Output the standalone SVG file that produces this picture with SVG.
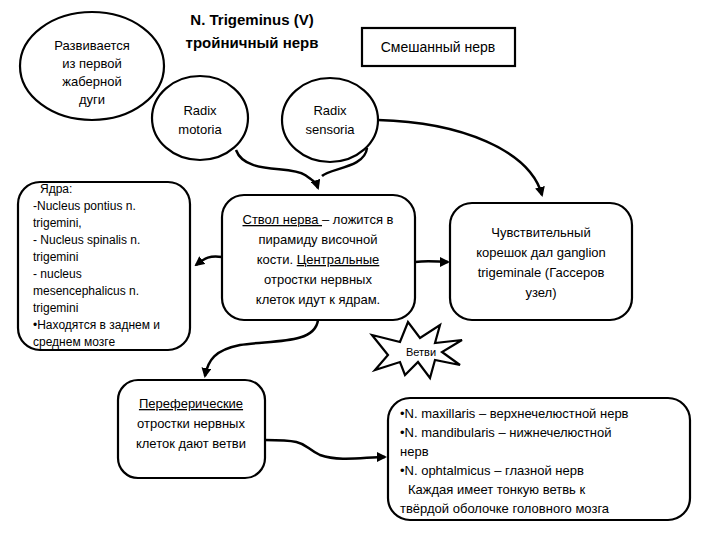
<svg xmlns="http://www.w3.org/2000/svg" width="720" height="540" viewBox="0 0 720 540">
<defs>
<style>
.s{fill:#fff;stroke:#000;stroke-width:2.2}
.c{fill:none;stroke:#000;stroke-width:2.5}
text{font-family:"Liberation Sans Narrow","Liberation Sans",Arial,sans-serif;font-size:13px;fill:#000}
.m{text-anchor:middle}
.b{font-weight:bold;font-size:15px}
.n{font-size:12px}
</style>
<marker id="a" viewBox="0 0 10 10" refX="8" refY="5" markerWidth="4" markerHeight="4" orient="auto"><path d="M0,0 L10,5 L0,10 Z" fill="#000"/></marker>
</defs>
<rect width="720" height="540" fill="#fff"/>
<g id="title"><text class="m b" x="252" y="25">N. Trigeminus (V)</text><text class="m b" x="252" y="48">тройничный нерв</text></g>
<g id="develop"><ellipse class="s" cx="92" cy="66" rx="72" ry="54"/>
<text class="m" x="92" y="50">Развивается</text><text class="m" x="92" y="68">из первой</text><text class="m" x="92" y="86">жаберной</text><text class="m" x="92" y="104">дуги</text></g>
<g id="mixed"><rect class="s" x="362" y="28" width="153" height="38"/><text class="m" x="438" y="52" style="font-size:14px">Смешанный нерв</text></g>
<g id="motoria"><ellipse class="s" cx="200" cy="118" rx="48" ry="42"/><text class="m" x="200" y="115">Radix</text><text class="m" x="200" y="134">motoria</text></g>
<g id="sensoria"><ellipse class="s" cx="330" cy="120" rx="48" ry="42"/><text class="m" x="330" y="115">Radix</text><text class="m" x="330" y="134">sensoria</text></g>
<g id="connectors">
<path class="c" d="M236,150 C245,175 290,165 305,175 C312,180 316,182 318,188" marker-end="url(#a)"/>
<path class="c" d="M367,148 C365,168 330,168 322,176"/>
<path class="c" d="M378,120 C460,122 530,150 542,195" marker-end="url(#a)"/>
<path class="c" d="M222,257 C210,255 205,258 196,265" marker-end="url(#a)"/>
<path class="c" d="M415,262 C430,260 438,262 448,262" marker-end="url(#a)"/>
<path class="c" d="M318,320 C315,345 270,340 240,345 C215,350 208,360 205,376" marker-end="url(#a)"/>
<path class="c" d="M265,440 C310,440 300,445 320,455 C340,462 365,457 385,457" marker-end="url(#a)"/>
</g>
<g id="nuclei"><rect class="s" x="18" y="182" width="172" height="168" rx="22"/>
<text class="n" x="40" y="193">Ядра:</text><text class="n" x="33" y="210">-Nucleus pontius n.</text><text class="n" x="33" y="227">trigemini,</text>
<text class="n" x="33" y="244">- Nucleus spinalis n.</text><text class="n" x="33" y="261">trigemini</text><text class="n" x="33" y="278">- nucleus</text>
<text class="n" x="33" y="295">mesencephalicus n.</text><text class="n" x="33" y="312">trigemini</text><text class="n" x="33" y="329">•Находятся в заднем и</text>
<text class="n" x="33" y="346">среднем мозге</text></g>
<g id="stvol"><rect class="s" x="222" y="195" width="193" height="125" rx="22"/>
<text class="m" x="318" y="224"><tspan text-decoration="underline">Ствол нерва </tspan>– ложится в</text>
<text class="m" x="318" y="244">пирамиду височной</text>
<text class="m" x="318" y="264">кости. <tspan text-decoration="underline">Центральные</tspan></text>
<text class="m" x="318" y="284">отростки нервных</text>
<text class="m" x="318" y="304">клеток идут к ядрам.</text></g>
<g id="sens"><rect class="s" x="450" y="203" width="182" height="117" rx="22"/>
<text class="m" x="541" y="237">Чувствительный</text><text class="m" x="541" y="257">корешок дал ganglion</text>
<text class="m" x="541" y="277">trigeminale (Гассеров</text><text class="m" x="541" y="297">узел)</text></g>
<g id="vetvi"><polygon class="s" stroke-width="1.6" points="372,335 400,342 408,322 420,338 440,325 435,343 462,340 442,352 460,365 435,360 430,378 418,362 405,375 400,362 375,370 388,355"/>
<text class="m" x="421" y="356" style="font-size:11px">Ветви</text></g>
<g id="periph"><rect class="s" x="118" y="380" width="147" height="98" rx="20"/>
<text class="m" x="191" y="408" text-decoration="underline">Переферические</text>
<text class="m" x="191" y="428">отростки нервных</text><text class="m" x="191" y="448">клеток дают ветви</text></g>
<g id="branches"><rect class="s" x="388" y="398" width="302" height="122" rx="22"/>
<text x="400" y="418">•N. maxillaris – верхнечелюстной нерв</text>
<text x="400" y="437">•N. mandibularis – нижнечелюстной</text>
<text x="400" y="456">нерв</text>
<text x="400" y="475">•N. ophtalmicus – глазной нерв</text>
<text x="408" y="494">Каждая имеет тонкую ветвь к</text>
<text x="400" y="513">твёрдой оболочке головного мозга</text></g>
</svg>
